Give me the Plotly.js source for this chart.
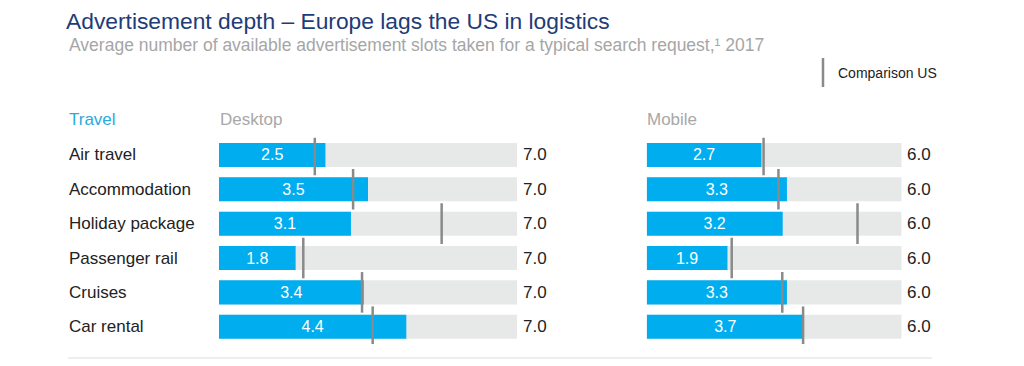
<!DOCTYPE html>
<html>
<head>
<meta charset="utf-8">
<script src="https://cdn.plot.ly/plotly-3.0.1.min.js"></script>
<style>html,body{margin:0;padding:0;background:#fff;}#chart{width:1024px;height:366px;}</style>
</head>
<body>
<div id="chart"></div>
<script>
const categories = ["Air travel", "Accommodation", "Holiday package", "Passenger rail", "Cruises", "Car rental"];
const desktopValues = [2.5, 3.5, 3.1, 1.8, 3.4, 4.4];
const desktopUS = [2.25, 3.15, 5.23, 1.98, 3.36, 3.61];
const desktopMax = [7.0, 7.0, 7.0, 7.0, 7.0, 7.0];
const mobileValues = [2.7, 3.3, 3.2, 1.9, 3.3, 3.7];
const mobileUS = [2.75, 3.10, 4.96, 2.0, 3.19, 3.68];
const mobileMax = [6.0, 6.0, 6.0, 6.0, 6.0, 6.0];

const FONT = "Liberation Sans, Arial, Helvetica, sans-serif";
const BLUE = "#00aeef";
const BG = "#e7e8e8";
const MARK = "#8a8a8a";

function panel(values, us, maxv, xa) {
  return [
    {type: "bar", orientation: "h", x: maxv, y: categories, xaxis: xa, yaxis: "y",
     marker: {color: BG}, width: 0.7, hoverinfo: "skip", showlegend: false},
    {type: "bar", orientation: "h", x: values, y: categories, xaxis: xa, yaxis: "y",
     marker: {color: BLUE}, width: 0.7, hoverinfo: "skip", showlegend: false,
     text: values.map(v => v.toFixed(1)), textposition: "inside", insidetextanchor: "middle",
     constraintext: "none", textfont: {family: FONT, size: 16, color: "#ffffff"}},
    {type: "scatter", mode: "markers", x: us, y: categories, xaxis: xa, yaxis: "y",
     marker: {symbol: "line-ns", size: 29, line: {color: MARK, width: 2.5}},
     hoverinfo: "skip", showlegend: false}
  ];
}

const data = panel(desktopValues, desktopUS, desktopMax, "x").concat(panel(mobileValues, mobileUS, mobileMax, "x2"));

const annotations = [];
categories.forEach((c, i) => {
  annotations.push({text: c, xref: "paper", yref: "y", x: 67/1024, y: c, xanchor: "left", yanchor: "middle",
    showarrow: false, font: {family: FONT, size: 17, color: "#222222"}});
  annotations.push({text: desktopMax[i].toFixed(1), xref: "x", yref: "y", x: desktopMax[i], y: c, xanchor: "left", yanchor: "middle",
    xshift: 4, showarrow: false, font: {family: FONT, size: 17, color: "#222222"}});
  annotations.push({text: mobileMax[i].toFixed(1), xref: "x2", yref: "y", x: mobileMax[i], y: c, xanchor: "left", yanchor: "middle",
    xshift: 3, showarrow: false, font: {family: FONT, size: 17, color: "#222222"}});
});
annotations.push(
  {text: "Average number of available advertisement slots taken for a typical search request,¹ 2017",
   xref: "paper", yref: "paper", x: 67/1024, y: 1 - 45/366, xanchor: "left", yanchor: "middle", showarrow: false,
   font: {family: FONT, size: 17.5, color: "#a6a6a6"}},
  {text: "Travel", xref: "paper", yref: "paper", x: 67/1024, y: 1 - 119/366, xanchor: "left", yanchor: "middle",
   showarrow: false, font: {family: FONT, size: 17, color: "#29aae1"}},
  {text: "Desktop", xref: "paper", yref: "paper", x: 218/1024, y: 1 - 119/366, xanchor: "left", yanchor: "middle",
   showarrow: false, font: {family: FONT, size: 17, color: "#a8a8a8"}},
  {text: "Mobile", xref: "paper", yref: "paper", x: 645/1024, y: 1 - 119/366, xanchor: "left", yanchor: "middle",
   showarrow: false, font: {family: FONT, size: 17, color: "#a8a8a8"}},
  {text: "Comparison US", xref: "paper", yref: "paper", x: 836/1024, y: 1 - 73/366, xanchor: "left", yanchor: "middle",
   showarrow: false, font: {family: FONT, size: 14, color: "#222222"}}
);

const layout = {
  width: 1024, height: 366,
  margin: {l: 0, r: 0, t: 0, b: 0},
  paper_bgcolor: "#ffffff", plot_bgcolor: "rgba(0,0,0,0)",
  barmode: "overlay",
  title: {text: "Advertisement depth – Europe lags the US in logistics", x: 66/1024, xanchor: "left",
          y: 1 - 21/366, yanchor: "middle", font: {family: FONT, size: 22.8, color: "#1d3c78"}},
  xaxis: {domain: [219/1024, 517/1024], range: [0, 7], visible: false, fixedrange: true, anchor: "y"},
  xaxis2: {domain: [646.7/1024, 901.7/1024], range: [0, 6], visible: false, fixedrange: true, anchor: "y"},
  yaxis: {domain: [1 - 343.9/366, 1 - 137.8/366], type: "category", categoryorder: "array", categoryarray: categories,
          range: [5.5, -0.5], showticklabels: false, showgrid: false, zeroline: false, showline: false, ticks: "", fixedrange: true},
  annotations: annotations,
  shapes: [
    {type: "line", xref: "paper", yref: "paper", x0: 823/1024, x1: 823/1024, y0: 1 - 58/366, y1: 1 - 87/366,
     line: {color: MARK, width: 2.5}},
    {type: "line", xref: "paper", yref: "paper", x0: 68/1024, x1: 932/1024, y0: 1 - 358/366, y1: 1 - 358/366,
     line: {color: "#dddddd", width: 1}}
  ],
  showlegend: false
};

Plotly.newPlot("chart", data, layout, {displayModeBar: false, staticPlot: true});
</script>
</body>
</html>
